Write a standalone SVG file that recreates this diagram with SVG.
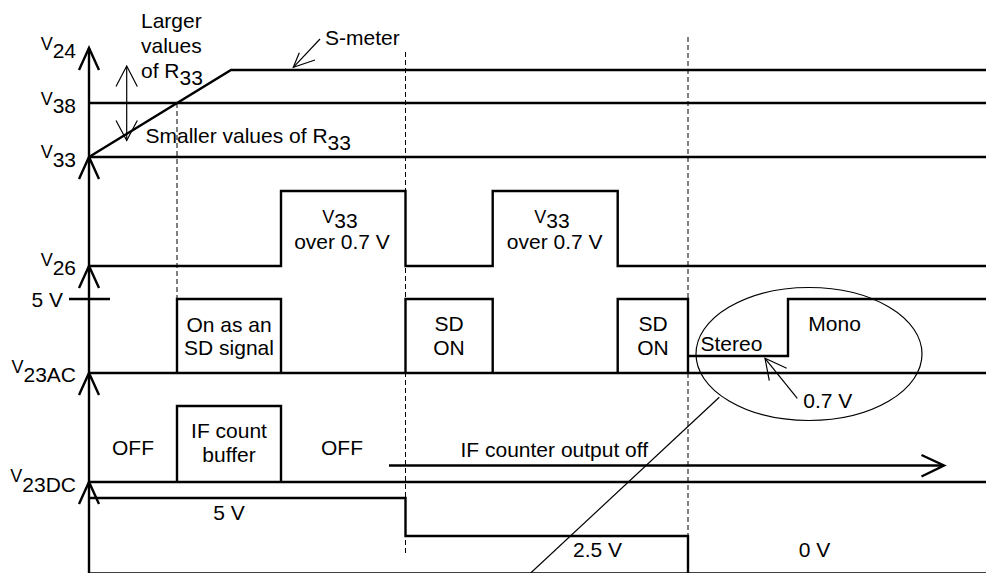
<svg xmlns="http://www.w3.org/2000/svg" width="986" height="573" viewBox="0 0 986 573">
<style>
.t{font-family:"Liberation Sans",Arial,sans-serif;font-size:21px;fill:#000}
.m{text-anchor:middle}
.e{text-anchor:end}
.v{font-size:18px}
.s{font-size:21px}
.w{fill:none;stroke:#000;stroke-width:2.4;stroke-linejoin:miter}
.th{fill:none;stroke:#000;stroke-width:1.2}
.d{fill:none;stroke:#000;stroke-width:1;stroke-dasharray:5 3}
</style>
<rect width="986" height="573" fill="#fff"/>

<g id="guides">
  <line class="d" x1="177" y1="103" x2="177" y2="298"/>
  <line class="d" x1="405.5" y1="52" x2="405.5" y2="556"/>
  <line class="d" x1="688" y1="37" x2="688" y2="536"/>
</g>

<g id="axis">
  <line class="w" x1="89" y1="48" x2="89" y2="573"/>
  <polyline class="w" points="79,70 89,48 99,70"/>
  <polyline class="w" points="79,179 89,157 99,179"/>
  <polyline class="w" points="79,288 89,266 99,288"/>
  <polyline class="w" points="79,395 89,373 99,395"/>
  <polyline class="w" points="79,504 89,482 99,504"/>
  <line class="w" x1="69" y1="299" x2="110" y2="299"/>
  <line class="w" x1="89" y1="573.5" x2="986" y2="573.5"/>
  <text class="t e" x="76" y="50"><tspan class="v">V</tspan><tspan class="s" dy="8">24</tspan></text>
  <text class="t e" x="76" y="105"><tspan class="v">V</tspan><tspan class="s" dy="8">38</tspan></text>
  <text class="t e" x="76" y="158"><tspan class="v">V</tspan><tspan class="s" dy="9">33</tspan></text>
  <text class="t e" x="76" y="266"><tspan class="v">V</tspan><tspan class="s" dy="9">26</tspan></text>
  <text class="t e" x="63" y="306.5">5 V</text>
  <text class="t e" x="76" y="373"><tspan class="v">V</tspan><tspan class="s" dy="9">23AC</tspan></text>
  <text class="t e" x="76" y="482"><tspan class="v">V</tspan><tspan class="s" dy="10">23DC</tspan></text>
</g>

<g id="smeter">
  <polyline class="w" points="89,157 231,70 986,70"/>
  <line class="w" x1="89" y1="103" x2="986" y2="103"/>
  <line class="w" x1="89" y1="157" x2="986" y2="157"/>
  <line class="th" x1="320" y1="39" x2="293.3" y2="67.3"/>
  <polyline class="th" points="299.3,52.7 293.3,67.3 315,60"/>
  <text class="t" x="325" y="45">S-meter</text>
  <line class="th" x1="126.7" y1="66" x2="126.7" y2="140.5"/>
  <polyline class="th" points="116,86.5 126.7,66 137.3,86.5"/>
  <polyline class="th" points="116,120.5 126.7,140.5 137.3,120.5"/>
  <text class="t" x="141" y="27.5">Larger</text>
  <text class="t" x="141" y="52.5">values</text>
  <text class="t" x="141" y="77.5">of R<tspan class="s" dy="7">33</tspan></text>
  <text class="t" x="145.5" y="142.5">Smaller values of R<tspan class="s" dy="7">33</tspan></text>
</g>

<g id="v26">
  <polyline class="w" points="89,266 281,266 281,191 405.5,191 405.5,266 492.7,266 492.7,191 617.7,191 617.7,266 986,266"/>
  <text class="t m" x="340" y="222.5"><tspan class="v">V</tspan><tspan class="s" dy="5.5">33</tspan></text>
  <text class="t m" x="342" y="248.5">over 0.7 V</text>
  <text class="t m" x="552" y="222.5"><tspan class="v">V</tspan><tspan class="s" dy="5.5">33</tspan></text>
  <text class="t m" x="554.7" y="248.5">over 0.7 V</text>
</g>

<g id="v23ac">
  <line class="w" x1="89" y1="373" x2="986" y2="373"/>
  <polyline class="w" points="177,373 177,299 281,299 281,373"/>
  <polyline class="w" points="405.5,373 405.5,299 492.7,299 492.7,373"/>
  <polyline class="w" points="617.7,373 617.7,299 688,299 688,373"/>
  <polyline class="w" points="688,356 788,356 788,299 986,299"/>
  <text class="t m" x="229" y="331.7">On as an</text>
  <text class="t m" x="229" y="355">SD signal</text>
  <text class="t m" x="449" y="330.7">SD</text>
  <text class="t m" x="449" y="355">ON</text>
  <text class="t m" x="653" y="330.7">SD</text>
  <text class="t m" x="653" y="355">ON</text>
  <text class="t" x="700.5" y="350.7">Stereo</text>
  <text class="t" x="808.3" y="330.7">Mono</text>
</g>

<g id="callout">
  <ellipse class="th" cx="809" cy="354" rx="113" ry="66.5"/>
  <line class="th" x1="719.3" y1="397.3" x2="530.7" y2="573"/>
  <line class="th" x1="797.3" y1="398.3" x2="765" y2="358.3"/>
  <polyline class="th" points="769.3,380.7 765,358.3 786.7,368.3"/>
  <text class="t" x="803.3" y="408.3">0.7 V</text>
</g>

<g id="v23dc">
  <line class="w" x1="89" y1="482" x2="986" y2="482"/>
  <polyline class="w" points="177,482 177,406 281,406 281,482"/>
  <text class="t m" x="229" y="438.3">IF count</text>
  <text class="t m" x="229" y="461.7">buffer</text>
  <text class="t m" x="133" y="455">OFF</text>
  <text class="t m" x="342" y="455">OFF</text>
  <line class="w" x1="389" y1="465.5" x2="943" y2="465.5"/>
  <polyline class="w" points="921.5,455 944,465.5 921.5,476.5"/>
  <text class="t" x="460.5" y="456.7">IF counter output off</text>
  <polyline class="w" points="89,498 405.5,498 405.5,536 688,536 688,573"/>
  <text class="t m" x="229" y="520">5 V</text>
  <text class="t m" x="597.5" y="556.7">2.5 V</text>
  <text class="t m" x="814.5" y="556.7">0 V</text>
</g>
</svg>
